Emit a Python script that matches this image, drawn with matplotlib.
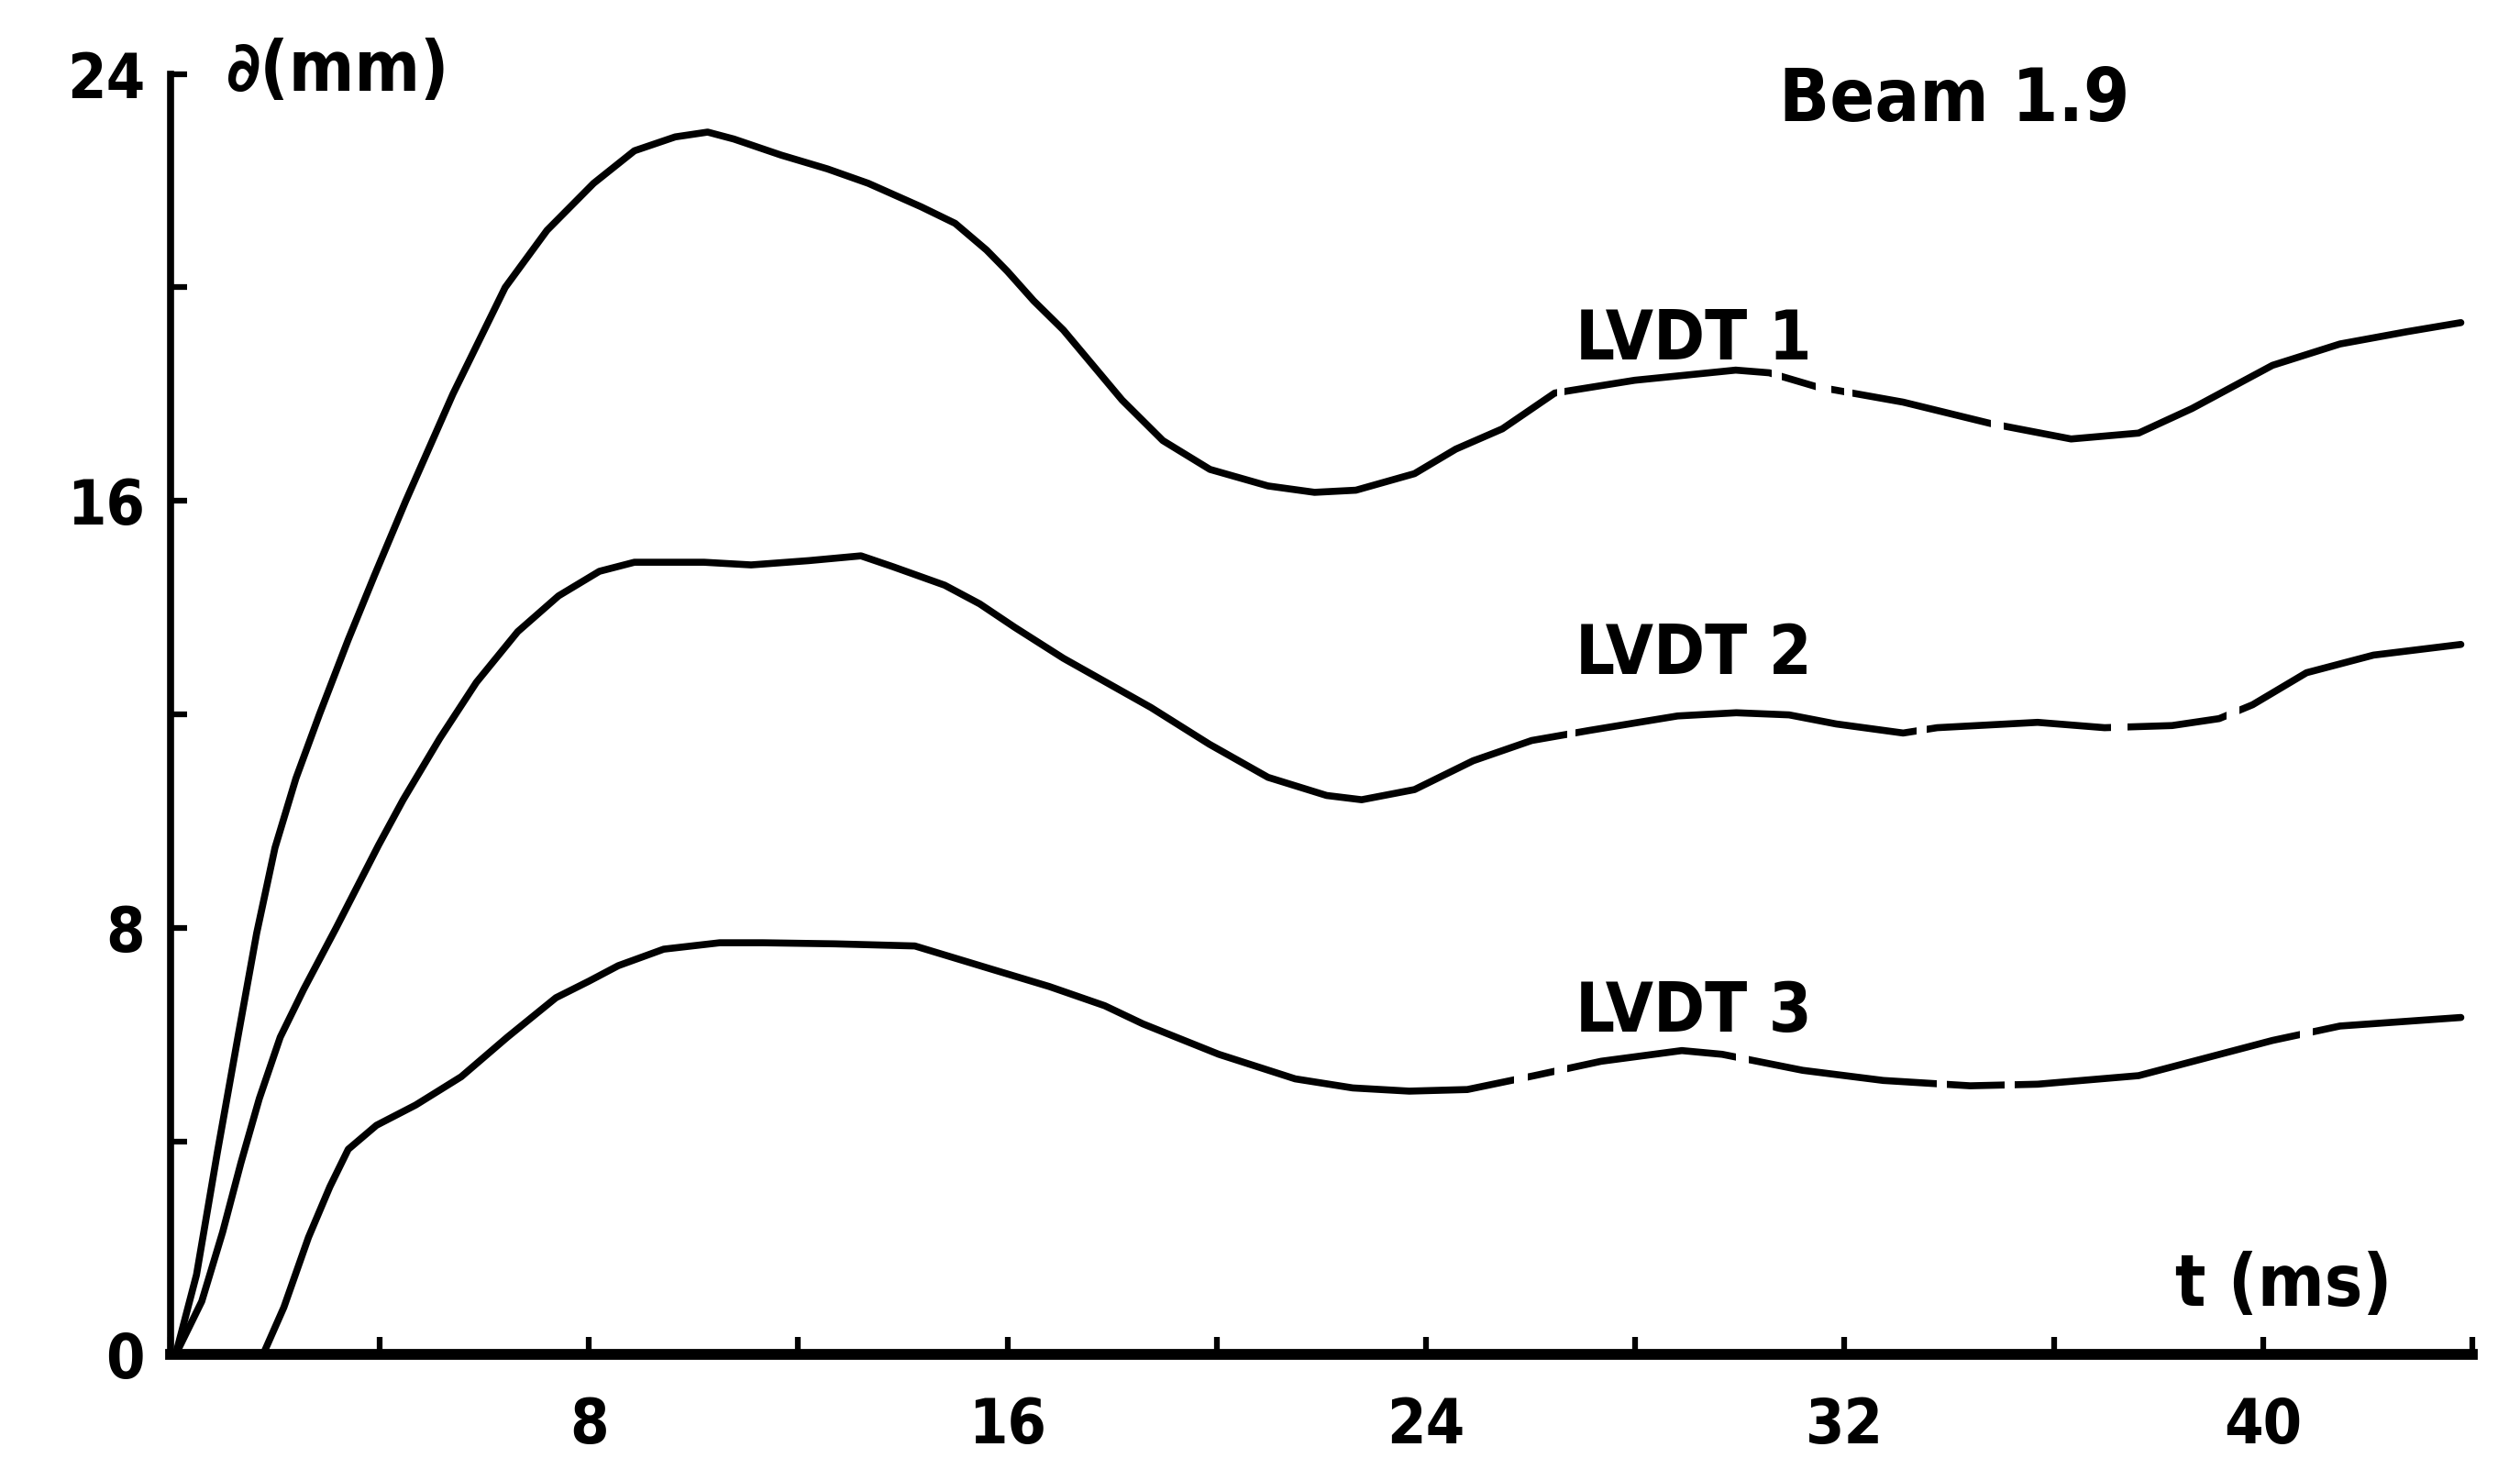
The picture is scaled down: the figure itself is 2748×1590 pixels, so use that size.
import matplotlib
matplotlib.use("Agg")
import matplotlib.pyplot as plt
from matplotlib import font_manager
from matplotlib.path import Path
from matplotlib.patches import PathPatch

# ---- data: deflection (mm) against time (ms) for three LVDTs on beam 1.9 ----
t_lvdt1 = [0.1, 0.5, 0.9, 1.3, 1.65, 2.0, 2.4, 2.85, 3.4, 3.9, 4.5, 5.4, 6.4,
           7.2, 8.09, 8.87, 9.65, 10.27, 10.77, 11.67, 12.56, 13.34, 14.35,
           15.0, 15.6, 16.0, 16.5, 17.07, 18.19, 18.97, 19.87, 20.98, 21.87,
           22.66, 23.78, 24.57, 25.46, 26.46, 27.99, 29.92, 30.56, 31.46,
           33.12, 34.79, 36.33, 37.62, 38.64, 40.18, 41.47, 42.75, 43.78]
d_lvdt1 = [0.0, 1.5, 3.8, 6.0, 7.9, 9.5, 10.8, 12.0, 13.4, 14.6, 16.0, 18.0, 20.0,
           21.07, 21.95, 22.56, 22.82, 22.91, 22.78, 22.48, 22.22, 21.95, 21.51,
           21.2, 20.7, 20.3, 19.75, 19.2, 17.89, 17.13, 16.59, 16.28, 16.16,
           16.2, 16.51, 16.97, 17.35, 18.02, 18.26, 18.45, 18.4, 18.14,
           17.85, 17.45, 17.16, 17.27, 17.73, 18.54, 18.94, 19.17, 19.34]

t_lvdt2 = [0.1, 0.6, 1.0, 1.35, 1.7, 2.1, 2.55, 3.17, 3.98, 4.45, 5.15, 5.85,
           6.64, 7.42, 8.2, 8.87, 10.2, 11.1, 12.2, 13.2, 13.8, 14.8, 15.47,
           16.14, 17.07, 18.74, 19.86, 20.98, 22.1, 22.77, 23.78, 24.9, 26.02,
           27.13, 28.81, 29.93, 30.94, 31.84, 33.12, 33.77, 35.69, 36.97, 38.26,
           39.16, 39.8, 40.83, 42.11, 43.78]
d_lvdt2 = [0.0, 1.0, 2.3, 3.6, 4.8, 5.95, 6.85, 8.0, 9.55, 10.4, 11.55, 12.6,
           13.55, 14.22, 14.68, 14.85, 14.85, 14.8, 14.88, 14.97, 14.77, 14.42,
           14.07, 13.63, 13.05, 12.13, 11.44, 10.82, 10.48, 10.4, 10.59, 11.13,
           11.51, 11.7, 11.97, 12.03, 11.99, 11.82, 11.65, 11.75, 11.85, 11.75,
           11.79, 11.92, 12.18, 12.78, 13.11, 13.31]

t_lvdt3 = [1.77, 2.17, 2.64, 3.05, 3.4, 3.94, 4.69, 5.56, 6.44, 7.37, 8.0, 8.56,
           9.43, 10.5, 11.32, 12.7, 14.23, 15.68, 16.8, 17.86, 18.59, 20.04,
           21.5, 22.6, 23.68, 24.79, 26.07, 27.35, 28.89, 29.66, 31.2, 32.74,
           34.4, 35.69, 37.62, 38.9, 40.18, 41.47, 43.78]
d_lvdt3 = [0.0, 0.89, 2.2, 3.15, 3.85, 4.3, 4.68, 5.21, 5.95, 6.69, 7.0, 7.29,
           7.6, 7.72, 7.72, 7.7, 7.66, 7.23, 6.9, 6.54, 6.2, 5.63,
           5.17, 5.0, 4.94, 4.97, 5.23, 5.5, 5.7, 5.63, 5.33, 5.14,
           5.04, 5.07, 5.23, 5.56, 5.89, 6.16, 6.32]

x_ticks = [0, 4, 8, 12, 16, 20, 24, 28, 32, 36, 40, 44]
x_tick_labels = ["", "", "8", "", "16", "", "24", "", "32", "", "40", ""]
y_ticks = [0, 4, 8, 12, 16, 20, 24]
y_tick_labels = ["0", "", "8", "", "16", "", "24"]

series_labels = ["LVDT 1", "LVDT 2", "LVDT 3"]
label_pos = [(26.85, 19.0), (26.85, 13.1), (26.85, 6.4)]
title_text = "Beam 1.9"
y_axis_text = "\u2202(mm)"
x_axis_text = "t (ms)"

# breaks in the recorder pen trace (time intervals, ms)
pen_breaks = [
    [(26.5, 26.65), (30.6, 30.8), (31.45, 31.75), (32.0, 32.15), (34.8, 35.05)],
    [(26.7, 26.85), (33.37, 33.57), (37.1, 37.4), (39.3, 39.55)],
    [(25.68, 25.94), (26.45, 26.7), (29.92, 30.17), (33.76, 33.95),
     (35.06, 35.25), (40.7, 40.95)],
]

# ---- fonts: prefer a condensed sans face ----
fonts = font_manager.fontManager.ttflist
condensed = [f for f in fonts if f.name == "DejaVu Sans" and f.stretch == "condensed"]
names = {f.name for f in fonts}
if condensed:
    plt.rcParams["font.family"] = ["DejaVu Sans"]
    plt.rcParams["font.stretch"] = "condensed"
elif "Liberation Sans Narrow" in names:
    plt.rcParams["font.family"] = ["Liberation Sans Narrow", "DejaVu Sans"]
else:
    plt.rcParams["font.family"] = ["Liberation Sans", "DejaVu Sans"]


def trace_clip(ax, breaks, x0=-2.0, x1=46.0, y0=-2.0, y1=26.0):
    """Clip region in data space: vertical strips with the break intervals removed."""
    edges = [x0]
    for a, b in breaks:
        edges += [a, b]
    edges.append(x1)
    verts, codes = [], []
    for a, b in zip(edges[0::2], edges[1::2]):
        verts += [(a, y0), (b, y0), (b, y1), (a, y1), (a, y0)]
        codes += [Path.MOVETO, Path.LINETO, Path.LINETO, Path.LINETO, Path.CLOSEPOLY]
    return PathPatch(Path(verts, codes), transform=ax.transData,
                     facecolor="none", edgecolor="none")


fig = plt.figure(figsize=(27.48, 15.90), dpi=100)
fig.patch.set_facecolor("white")
ax = fig.add_axes([0.0676, 0.0708, 0.9135, 0.8785])
ax.set_xlim(0, 44)
ax.set_ylim(0, 24)

series = [(t_lvdt1, d_lvdt1), (t_lvdt2, d_lvdt2), (t_lvdt3, d_lvdt3)]
for (t, d), breaks in zip(series, pen_breaks):
    line, = ax.plot(t, d, color="black", lw=5.5, solid_capstyle="round",
                    solid_joinstyle="round")
    line.set_clip_path(trace_clip(ax, breaks))
    line.set_clip_on(True)

for sp in ("top", "right"):
    ax.spines[sp].set_visible(False)
ax.spines["left"].set_linewidth(5.5)
ax.spines["bottom"].set_linewidth(8.5)
ax.spines["left"].set_capstyle("projecting")
ax.spines["bottom"].set_capstyle("projecting")

ax.set_xticks(x_ticks)
ax.set_xticklabels(x_tick_labels)
ax.set_yticks(y_ticks)
ax.set_yticklabels(y_tick_labels)
ax.tick_params(axis="x", direction="in", length=14, width=4.5, pad=32,
               labelsize=49)
ax.tick_params(axis="y", direction="in", length=13, width=4.5, pad=20,
               labelsize=49)
for lab in ax.get_xticklabels() + ax.get_yticklabels():
    lab.set_fontweight("bold")

txt = dict(color="black", fontweight="bold")
for name, (x, y) in zip(series_labels, label_pos):
    ax.text(x, y, name, fontsize=54, ha="left", va="center", **txt)
ax.text(34.1, 23.5, title_text, fontsize=58, ha="center", va="center", **txt)
ax.text(1.05, 24.05, y_axis_text, fontsize=55, ha="left", va="center", **txt)
ax.text(40.4, 1.3, x_axis_text, fontsize=56, ha="center", va="center", **txt)

fig.savefig("out.png", dpi=100, facecolor="white")
